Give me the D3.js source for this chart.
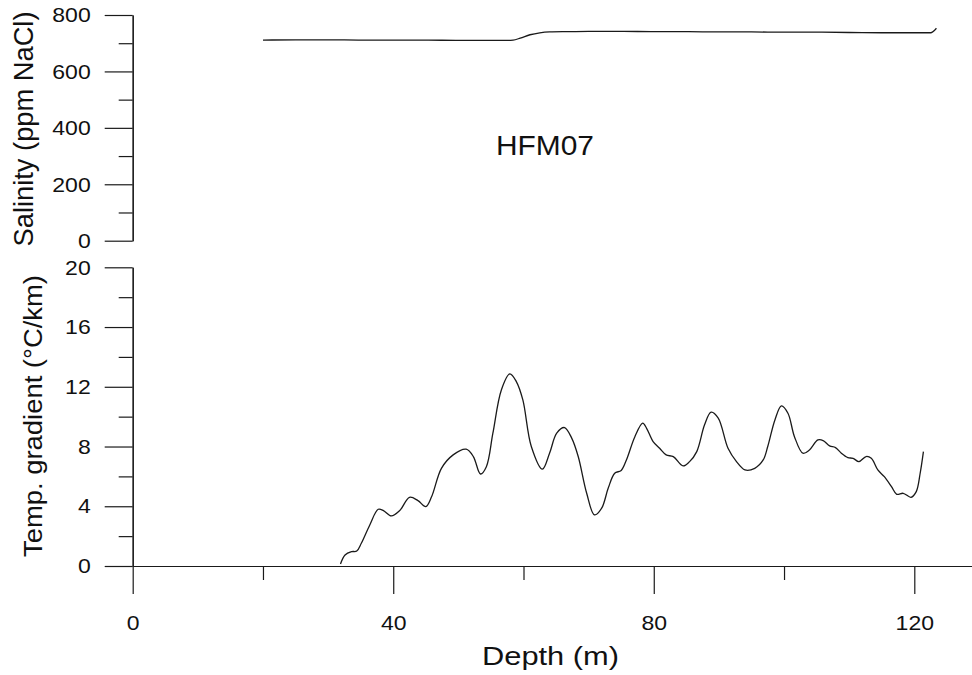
<!DOCTYPE html>
<html>
<head>
<meta charset="utf-8">
<script src="https://cdn.jsdelivr.net/npm/d3@7"></script>
<style>
  html, body { margin: 0; padding: 0; background: #fff; }
  svg { display: block; }
  text { font-family: "Liberation Sans", Arial, sans-serif; fill: #111; }
</style>
</head>
<body>
<svg id="chart" width="972" height="675"></svg>
<script>
// ---------- data ----------
const salDepth = [20, 25, 30, 35, 40, 45, 50, 55, 57.5, 58.4, 59.5, 61, 62.5, 64, 67, 70, 75, 80, 85, 90, 95, 100, 105, 110, 115, 120, 122.5, 123.4];
const salinity = [711, 712, 712, 711, 711, 711, 710, 710, 710, 711, 718, 730, 737, 740, 741, 742, 742, 741, 741, 740, 740, 739, 739, 738, 737, 737, 737, 753];

const tempDepth = [31.9, 32.6, 33.6, 34.4, 35.1, 36.4, 37.7, 38.5, 39.7, 41.0, 42.5, 43.8, 45.0, 45.9, 47.4, 49.2, 51.2, 52.3, 53.4, 54.3, 55.3, 56.6, 57.9, 58.9, 59.9, 61.2, 62.9, 64.0, 65.1, 66.3, 67.4, 68.4, 69.7, 70.9, 72.0, 73.0, 74.0, 75.0, 75.8, 77.1, 78.3, 78.9, 79.9, 80.9, 81.9, 83.0, 84.5, 85.5, 86.6, 87.8, 88.8, 89.9, 91.4, 92.7, 94.0, 95.5, 96.8, 97.5, 98.6, 99.6, 100.6, 101.6, 102.9, 103.9, 105.2, 106.0, 107.0, 107.9, 108.8, 109.8, 110.6, 111.5, 112.6, 113.4, 114.4, 115.4, 116.5, 117.3, 118.3, 119.5, 120.3, 120.9, 121.4];
const tempGrad = [0.13, 0.74, 0.96, 1.0, 1.52, 2.75, 3.8, 3.71, 3.35, 3.71, 4.6, 4.38, 3.98, 4.65, 6.54, 7.44, 7.82, 7.33, 6.16, 6.65, 8.89, 11.79, 12.86, 12.35, 11.12, 8.0, 6.48, 7.55, 8.89, 9.27, 8.56, 7.33, 4.87, 3.42, 3.87, 5.2, 6.21, 6.4, 7.1, 8.66, 9.56, 9.22, 8.33, 7.88, 7.44, 7.32, 6.7, 6.99, 7.66, 9.45, 10.3, 9.9, 7.88, 6.99, 6.43, 6.54, 7.1, 8.0, 9.78, 10.72, 10.23, 8.66, 7.55, 7.77, 8.44, 8.4, 8.04, 7.93, 7.55, 7.26, 7.21, 6.99, 7.33, 7.21, 6.43, 5.98, 5.31, 4.8, 4.87, 4.6, 4.98, 6.21, 7.66];

const xTicksMajor = [0, 40, 80, 120];
const xTicksMinor = [20, 60, 100];
const salTicksMajor = [0, 200, 400, 600, 800];
const salTicksMinor = [100, 300, 500, 700];
const tempTicksMajor = [0, 4, 8, 12, 16, 20];
const tempTicksMinor = [2, 6, 10, 14, 18];

const wellLabel = "HFM07";
const xTitle = "Depth (m)";
const salTitle = "Salinity (ppm NaCl)";
const tempTitle = "Temp. gradient (°C/km)";

// ---------- layout ----------
const svg = d3.select("#chart");
const axisX = 132.7;
const x = d3.scaleLinear().domain([0, 120]).range([axisX, 914.3]);
const ySal = d3.scaleLinear().domain([0, 800]).range([240.7, 15]);
const yTemp = d3.scaleLinear().domain([0, 20]).range([566, 267.3]);

const ink = "#1a1a1a";
const digitW = 12.8;

function styleAxis(g) {
  g.selectAll("path.domain").attr("stroke", ink).attr("stroke-width", 1.2);
  g.selectAll(".tick line").attr("stroke", ink).attr("stroke-width", 1.2);
}

// ---- top panel (salinity) ----
const gSalMinor = svg.append("g").attr("transform", `translate(${axisX},0)`)
  .call(d3.axisLeft(ySal).tickValues(salTicksMinor).tickSize(14).tickSizeOuter(0).tickFormat(""));
const gSalMajor = svg.append("g").attr("transform", `translate(${axisX},0)`)
  .call(d3.axisLeft(ySal).tickValues(salTicksMajor).tickSize(28).tickSizeOuter(0).tickPadding(14));
[gSalMinor, gSalMajor].forEach(styleAxis);
gSalMajor.selectAll("text")
  .attr("font-size", 21).attr("fill", ink)
  .attr("textLength", d => String(d).length * digitW).attr("lengthAdjust", "spacingAndGlyphs");

// ---- bottom panel (temperature gradient) ----
const gTempMinor = svg.append("g").attr("transform", `translate(${axisX},0)`)
  .call(d3.axisLeft(yTemp).tickValues(tempTicksMinor).tickSize(14).tickSizeOuter(0).tickFormat(""));
const gTempMajor = svg.append("g").attr("transform", `translate(${axisX},0)`)
  .call(d3.axisLeft(yTemp).tickValues(tempTicksMajor).tickSize(28).tickSizeOuter(0).tickPadding(14));
[gTempMinor, gTempMajor].forEach(styleAxis);
gTempMajor.selectAll("text")
  .attr("font-size", 21).attr("fill", ink)
  .attr("textLength", d => String(d).length * digitW).attr("lengthAdjust", "spacingAndGlyphs");

// x axis
const xAxisDom = d3.scaleLinear().domain([0, 140]).range([axisX, x(140)]);
const gXMinor = svg.append("g").attr("transform", `translate(0,${yTemp(0)})`)
  .call(d3.axisBottom(xAxisDom).tickValues(xTicksMinor).tickSize(14).tickSizeOuter(0).tickFormat(""));
const gXMajor = svg.append("g").attr("transform", `translate(0,${yTemp(0)})`)
  .call(d3.axisBottom(xAxisDom).tickValues(xTicksMajor).tickSize(28).tickSizeOuter(0).tickPadding(0));
[gXMinor, gXMajor].forEach(styleAxis);
gXMajor.selectAll("text")
  .attr("font-size", 21).attr("fill", ink)
  .attr("y", 64).attr("dy", 0)
  .attr("textLength", d => String(d).length * digitW).attr("lengthAdjust", "spacingAndGlyphs");

// ---- lines ----
const salData = salDepth.map((d, i) => [d, salinity[i]]);
const tempData = tempDepth.map((d, i) => [d, tempGrad[i]]);

svg.append("path")
  .datum(salData)
  .attr("fill", "none").attr("stroke", ink).attr("stroke-width", 1.3)
  .attr("d", d3.line().x(d => x(d[0])).y(d => ySal(d[1])).curve(d3.curveMonotoneX));

svg.append("path")
  .datum(tempData)
  .attr("fill", "none").attr("stroke", ink).attr("stroke-width", 1.3)
  .attr("d", d3.line().x(d => x(d[0])).y(d => yTemp(d[1])).curve(d3.curveCatmullRom.alpha(0.5)));

// ---- texts ----
svg.append("text")
  .attr("x", 545).attr("y", 155).attr("text-anchor", "middle")
  .attr("font-size", 28).attr("textLength", 98).attr("lengthAdjust", "spacingAndGlyphs")
  .text(wellLabel);

svg.append("text")
  .attr("x", 550.5).attr("y", 665).attr("text-anchor", "middle")
  .attr("font-size", 26).attr("textLength", 137).attr("lengthAdjust", "spacingAndGlyphs")
  .text(xTitle);

svg.append("text")
  .attr("transform", "translate(33,129) rotate(-90)")
  .attr("text-anchor", "middle")
  .attr("font-size", 27).attr("textLength", 235).attr("lengthAdjust", "spacingAndGlyphs")
  .text(salTitle);

svg.append("text")
  .attr("transform", "translate(41.5,416) rotate(-90)")
  .attr("text-anchor", "middle")
  .attr("font-size", 25).attr("textLength", 282).attr("lengthAdjust", "spacingAndGlyphs")
  .text(tempTitle);
</script>
</body>
</html>
